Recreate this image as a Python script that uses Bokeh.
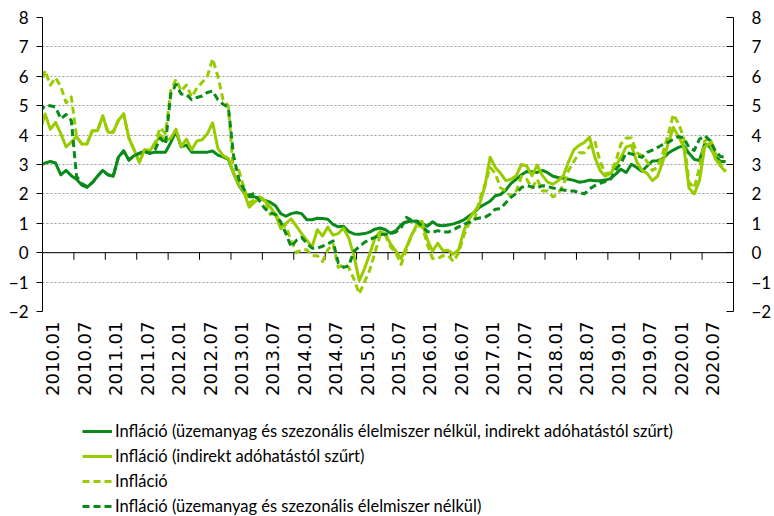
import math
from bokeh.plotting import figure
from bokeh.layouts import column
from bokeh.models import Range1d, LinearAxis, FixedTicker, Span, Legend, LegendItem
from bokeh.embed import file_html
from bokeh.resources import INLINE

# categories: monthly, 2009.12 .. 2020.11
months = ["2009.12"] + [f"{y}.{m:02d}" for y in range(2010, 2021) for m in range(1, 13)][:131]

# tick labels on the category axis
tick_labels = ["2010.01", "2010.07", "2011.01", "2011.07", "2012.01", "2012.07",
               "2013.01", "2013.07", "2014.01", "2014.07", "2015.01", "2015.07",
               "2016.01", "2016.07", "2017.01", "2017.07", "2018.01", "2018.07",
               "2019.01", "2019.07", "2020.01", "2020.07"]

series_names = [
    "Infláció (üzemanyag és szezonális élelmiszer nélkül, indirekt adóhatástól szűrt)",
    "Infláció (indirekt adóhatástól szűrt)",
    "Infláció",
    "Infláció (üzemanyag és szezonális élelmiszer nélkül)",
]

# Infláció (üzemanyag és szezonális élelmiszer nélkül, indirekt adóhatástól szűrt)
core_filtered = [
    2.95,
    3.05, 3.10, 3.05, 2.65, 2.80, 2.62, 2.50, 2.30, 2.22, 2.38, 2.60, 2.80,
    2.65, 2.60, 3.25, 3.47, 3.15, 3.30, 3.38, 3.45, 3.38, 3.42, 3.42, 3.42,
    3.75, 4.12, 3.60, 3.66, 3.42, 3.42, 3.42, 3.42, 3.46, 3.32, 3.26, 3.17,
    2.70, 2.30, 2.03, 1.90, 1.90, 1.83, 1.78, 1.72, 1.60, 1.33, 1.24, 1.33,
    1.37, 1.33, 1.12, 1.12, 1.17, 1.16, 1.14, 0.96, 0.88, 0.90, 0.72, 0.64,
    0.63, 0.65, 0.70, 0.80, 0.84, 0.78, 0.66, 0.75, 0.95, 1.05, 1.07, 1.08,
    1.00, 0.90, 1.05, 0.93, 0.92, 0.94, 0.98, 1.04, 1.12, 1.25, 1.38, 1.55,
    1.65, 1.75, 1.94, 1.98, 2.13, 2.36, 2.50, 2.65, 2.76, 2.75, 2.73, 2.80,
    2.72, 2.60, 2.56, 2.53, 2.50, 2.46, 2.40, 2.42, 2.47, 2.45, 2.45, 2.47,
    2.52, 2.67, 2.84, 2.73, 3.01, 2.90, 2.77, 2.95, 3.12, 3.13, 3.20, 3.38,
    3.49, 3.58, 3.64, 3.38, 3.18, 3.13, 3.70, 3.60, 3.30, 3.10, 3.10,
]

# Infláció (indirekt adóhatástól szűrt)
tax_filtered = [
    4.15,
    4.72, 4.20, 4.43, 4.05, 3.60, 3.76, 3.95, 3.70, 3.70, 4.15, 4.15, 4.65,
    4.10, 4.10, 4.50, 4.72, 3.90, 3.50, 3.07, 3.50, 3.47, 3.70, 4.00, 3.80,
    3.90, 4.20, 3.60, 3.86, 3.50, 3.80, 3.84, 4.05, 4.42, 3.55, 3.30, 3.20,
    2.70, 2.33, 2.05, 1.55, 1.72, 1.85, 1.77, 1.56, 1.30, 0.82, 1.00, 1.15,
    0.90, 0.65, 0.42, 0.20, 0.78, 0.57, 0.87, 0.60, 0.65, 0.84, 0.50, -0.10,
    -0.95, -0.55, -0.05, 0.50, 0.72, 0.63, 0.30, 0.05, -0.20, 0.18, 0.60, 0.95,
    1.07, 0.45, 0.05, 0.32, 0.07, 0.08, -0.05, 0.10, 0.75, 1.15, 1.40, 1.65,
    2.25, 3.25, 2.90, 2.70, 2.45, 2.50, 2.62, 3.00, 2.95, 2.62, 2.98, 2.62,
    2.40, 2.33, 2.45, 2.62, 3.10, 3.50, 3.65, 3.75, 3.93, 3.25, 2.80, 2.60,
    2.70, 2.95, 3.25, 3.60, 3.65, 3.10, 2.80, 2.70, 2.45, 2.60, 3.10, 3.70,
    4.26, 3.95, 3.60, 2.20, 2.00, 2.45, 3.60, 3.72, 3.20, 2.95, 2.75,
]

# Infláció
headline = [
    5.60,
    6.20, 5.70, 5.95, 5.65, 5.10, 5.30, 3.95, 3.70, 3.70, 4.15, 4.15, 4.65,
    4.10, 4.10, 4.50, 4.72, 3.90, 3.50, 3.07, 3.50, 3.47, 3.75, 4.25, 4.05,
    5.50, 5.90, 5.50, 5.70, 5.30, 5.60, 5.80, 6.00, 6.60, 6.00, 5.20, 5.00,
    2.70, 2.80, 2.20, 1.70, 1.80, 1.90, 1.80, 1.30, 1.40, 0.90, 0.90, 0.40,
    0.00, 0.10, 0.10, -0.10, -0.10, -0.30, 0.10, 0.30, -0.50, -0.40, -0.50, -0.90,
    -1.40, -1.00, -0.60, 0.00, 0.60, 0.60, 0.20, 0.00, -0.40, 0.10, 0.60, 0.90,
    0.90, 0.30, -0.20, -0.20, -0.10, -0.10, -0.30, 0.00, 0.60, 1.00, 1.10, 1.80,
    2.30, 2.90, 2.70, 2.20, 2.10, 1.90, 2.10, 2.60, 2.50, 2.20, 2.50, 2.10,
    2.10, 1.90, 2.00, 2.30, 2.80, 3.10, 3.40, 3.40, 3.60, 3.80, 3.10, 2.70,
    2.70, 3.10, 3.70, 3.90, 3.90, 3.40, 3.30, 3.10, 2.80, 2.90, 3.40, 4.00,
    4.70, 4.40, 3.90, 2.40, 2.20, 2.90, 3.80, 3.90, 3.40, 3.00, 2.80,
]

# Infláció (üzemanyag és szezonális élelmiszer nélkül)
core = [
    4.80,
    5.00, 5.00, 4.95, 4.55, 4.70, 4.50, 2.60, 2.35, 2.25, 2.38, 2.60, 2.80,
    2.65, 2.60, 3.25, 3.45, 3.15, 3.30, 3.38, 3.45, 3.38, 3.50, 3.90, 3.70,
    5.40, 5.72, 5.40, 5.38, 5.20, 5.28, 5.33, 5.45, 5.50, 5.20, 5.05, 4.95,
    3.30, 2.50, 2.15, 1.95, 2.02, 1.75, 1.50, 1.35, 1.30, 1.05, 0.65, 0.20,
    0.42, 0.52, 0.32, 0.15, 0.15, 0.22, 0.30, 0.40, -0.35, -0.50, -0.45, 0.05,
    0.20, 0.35, 0.45, 0.52, 0.62, 0.63, 0.65, 0.70, 0.85, 1.20, 1.10, 1.05,
    0.92, 0.72, 0.69, 0.75, 0.70, 0.70, 0.78, 0.88, 0.97, 1.03, 1.14, 1.18,
    1.20, 1.31, 1.48, 1.50, 1.70, 1.88, 2.02, 2.22, 2.28, 2.24, 2.20, 2.28,
    2.25, 2.20, 2.17, 2.13, 2.10, 2.10, 2.05, 2.00, 2.17, 2.28, 2.36, 2.42,
    2.50, 2.82, 3.04, 3.40, 3.36, 3.30, 3.24, 3.41, 3.49, 3.58, 3.68, 3.75,
    3.86, 3.95, 3.90, 3.58, 3.48, 3.86, 3.98, 3.82, 3.47, 3.27, 3.25,
]

y_ticks = [-2, -1, 0, 1, 2, 3, 4, 5, 6, 7, 8]

DARK = "#0a8a1a"
LIGHT = "#99cc00"
styles = [
    dict(line_color=DARK, line_width=3, line_join="round"),
    dict(line_color=LIGHT, line_width=3, line_join="round"),
    dict(line_color=LIGHT, line_width=3, line_dash="7 4", line_join="round"),
    dict(line_color=DARK, line_width=3, line_dash="7 4", line_join="round"),
]
all_series = [core_filtered, tax_filtered, headline, core]

# category k is centred at k - 0.5 (first category 2009.12 lies just left of the frame)
xs = [k - 0.5 for k in range(len(months))]
n_cat = 132
boundary_ticks = list(range(0, n_cat + 1, 6))
label_pos = [months.index(lbl) + 1.0 for lbl in tick_labels]

p = figure(width=774, height=411, x_range=Range1d(0, n_cat), y_range=Range1d(-2, 8),
           output_backend="svg", toolbar_location=None,
           min_border_left=42, min_border_right=35, min_border_top=17, min_border_bottom=100)
p.outline_line_color = None
p.background_fill_color = "white"

# grid
p.xgrid.visible = False
p.ygrid.ticker = FixedTicker(ticks=y_ticks)
p.ygrid.grid_line_color = "#9c9c9c"
p.ygrid.grid_line_dash = "2 2"
p.ygrid.grid_line_width = 1

# left axis
ya = p.yaxis[0]
ya.ticker = FixedTicker(ticks=y_ticks)
ya.axis_line_color = "black"
ya.major_tick_line_color = "black"
ya.major_tick_out = 6
ya.major_tick_in = 0
ya.minor_tick_line_color = None
ya.major_label_standoff = 8
ya.major_label_text_font = "Lato"
ya.major_label_text_font_size = "17px"
ya.major_label_text_color = "black"

# right axis
ra = LinearAxis(ticker=FixedTicker(ticks=y_ticks))
ra.axis_line_color = "black"
ra.major_tick_line_color = "black"
ra.major_tick_out = 0
ra.major_tick_in = 7
ra.minor_tick_line_color = None
ra.major_label_standoff = 18
ra.major_label_text_font = "Lato"
ra.major_label_text_font_size = "17px"
ra.major_label_text_color = "black"
p.add_layout(ra, "right")

# bottom axis: labels only
xa = p.xaxis[0]
xa.ticker = FixedTicker(ticks=label_pos)
xa.major_label_overrides = {pos: lbl for pos, lbl in zip(label_pos, tick_labels)}
xa.major_label_orientation = math.pi / 2
xa.axis_line_color = None
xa.major_tick_line_color = None
xa.minor_tick_line_color = None
xa.major_tick_out = 0
xa.major_tick_in = 0
xa.major_label_standoff = 10
xa.major_label_text_font = "DejaVu Sans"
xa.major_label_text_font_size = "18px"
xa.major_label_text_color = "black"

# horizontal axis line at zero, with its category tick marks
p.add_layout(Span(location=0, dimension="width", line_color="black", line_width=1, level="underlay"))
p.segment(x0=boundary_ticks, y0=[0] * len(boundary_ticks), x1=boundary_ticks,
          y1=[-0.24] * len(boundary_ticks), line_color="black", line_width=1)

for values, st in zip(all_series, styles):
    p.line(xs, values, **st)

# legend below the chart, in its own strip (series drawn there out of view, only as legend keys)
q = figure(width=774, height=105, x_range=Range1d(1000, 1001), y_range=Range1d(1000, 1001),
           output_backend="svg", toolbar_location=None,
           x_axis_location=None, y_axis_location=None,
           min_border_left=0, min_border_right=0, min_border_top=0, min_border_bottom=0)
q.outline_line_color = None
q.xgrid.visible = False
q.ygrid.visible = False
items = []
for name, values, st in zip(series_names, all_series, styles):
    r = q.line(xs, values, **st)
    items.append(LegendItem(label=name, renderers=[r]))

legend = Legend(items=items, location=(40, 0), orientation="vertical")
legend.label_text_font = "Lato"
legend.label_text_font_size = "16.5px"
legend.label_text_color = "black"
legend.glyph_width = 30
legend.glyph_height = 20
legend.label_height = 20
legend.label_standoff = 3
legend.spacing = 5
legend.padding = 0
legend.margin = 0
legend.border_line_color = None
legend.background_fill_alpha = 0
q.add_layout(legend)

open("out.html", "w").write(file_html(column(p, q), INLINE))
